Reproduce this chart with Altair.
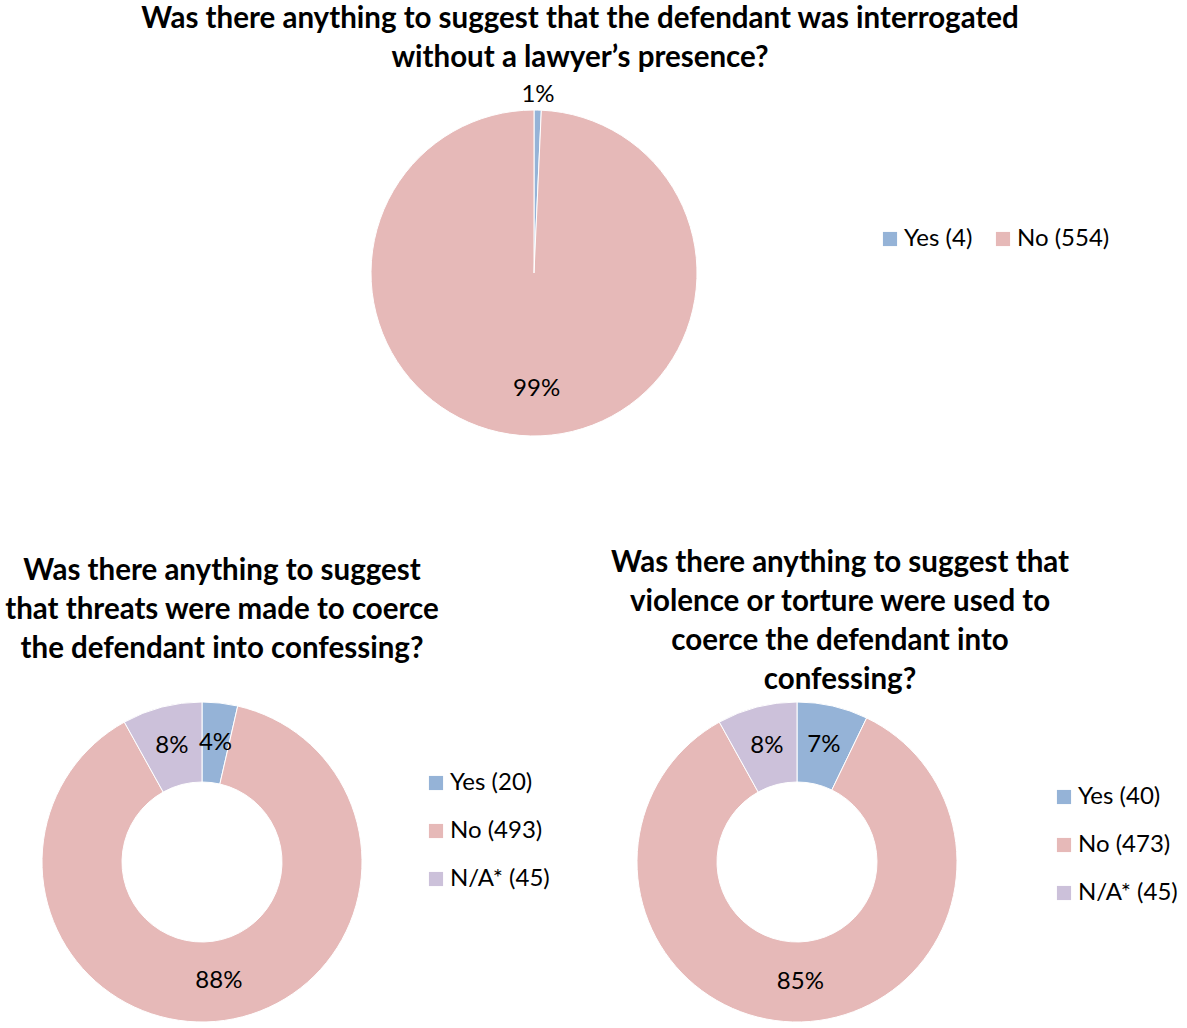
import altair as alt
import pandas as pd

# ---- data ----
title_top = ["Was there anything to suggest that the defendant was interrogated",
             "without a lawyer\u2019s presence?"]
title_left = ["Was there anything to suggest",
              "that threats were made to coerce",
              "the defendant into confessing?"]
title_right = ["Was there anything to suggest that",
               "violence or torture were used to",
               "coerce the defendant into",
               "confessing?"]

cats_top = ["Yes (4)", "No (554)"]
vals_top = [4, 554]
cats_left = ["Yes (20)", "No (493)", "N/A* (45)"]
vals_left = [20, 493, 45]
cats_right = ["Yes (40)", "No (473)", "N/A* (45)"]
vals_right = [40, 473, 45]

colors = ["#95B3D7", "#E6B9B8", "#CCC1DA"]
FONT = "Lato"


def title_layer(lines, cx, ytop):
    df = pd.DataFrame({"t": ["\n".join(lines)]})
    return alt.Chart(df).mark_text(
        font=FONT, fontWeight="bold", fontSize=29.5, lineBreak="\n",
        lineHeight=39, baseline="top", align="center", color="black"
    ).encode(text="t:N", x=alt.value(cx), y=alt.value(ytop))


def pie_layer(cats, vals, cx, cy, outer, inner, label_expr, legend):
    df = pd.DataFrame({"cat": cats, "value": vals, "idx": list(range(len(cats)))})
    base = alt.Chart(df).transform_joinaggregate(total="sum(value)").transform_calculate(
        pct="datum.value / datum.total")
    arc = base.mark_arc(outerRadius=outer, innerRadius=inner, stroke="white",
                        strokeWidth=1).encode(
        theta=alt.Theta("value:Q", stack=True),
        order=alt.Order("idx:Q"),
        color=alt.Color("cat:N", sort=cats,
                        scale=alt.Scale(domain=cats, range=colors[:len(cats)]),
                        legend=legend),
        x=alt.value(cx), y=alt.value(cy),
    )
    text = base.transform_calculate(r=label_expr).mark_text(
        font=FONT, fontSize=24, color="black", align="center", baseline="middle"
    ).encode(
        theta=alt.Theta("value:Q", stack=True),
        order=alt.Order("idx:Q"),
        radius=alt.Radius("r:Q", scale=None),
        text=alt.Text("pct:Q", format=".0%"),
        x=alt.value(cx), y=alt.value(cy),
    )
    return alt.layer(arc, text)


def legend(x, y, horizontal=False):
    kw = dict(orient="none", legendX=x, legendY=y, title=None, padding=0,
              symbolType="square", symbolSize=200, symbolStrokeWidth=0,
              labelFont=FONT, labelFontSize=24, labelColor="black",
              labelOffset=2, labelLimit=300)
    if horizontal:
        kw.update(direction="horizontal", columns=2, columnPadding=18)
    else:
        kw.update(direction="vertical", rowPadding=24)
    return alt.Legend(**kw)


pie_top = pie_layer(cats_top, vals_top, 534, 273, 163, 0,
                    "datum.pct < 0.05 ? 178 : 116", legend(878, 227, True))
pie_left = pie_layer(cats_left, vals_left, 202, 862, 160, 80,
                     "120", legend(424, 771))
pie_right = pie_layer(cats_right, vals_right, 797, 862, 160, 80,
                      "120", legend(1052, 785))

chart = alt.layer(
    title_layer(title_top, 580, 5),
    title_layer(title_left, 222, 557),
    title_layer(title_right, 840, 549),
    pie_top, pie_left, pie_right,
).resolve_scale(
    theta="independent", color="independent"
).resolve_legend(color="independent").properties(
    width=1187, height=1028, padding=0, autosize="none", background="white"
).configure_view(stroke=None)

chart.save("out.html", embed_options={"renderer": "svg", "actions": False})
